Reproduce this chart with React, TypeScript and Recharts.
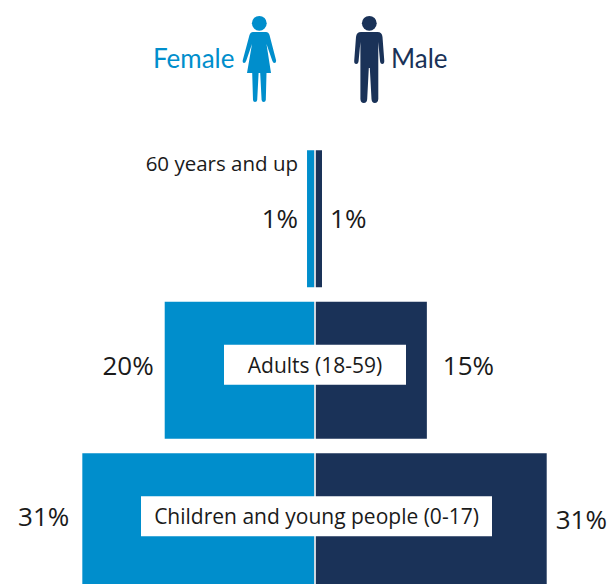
import { BarChart, Bar, XAxis, YAxis, LabelList, ReferenceLine } from "recharts";

const categories = ["60 years and up", "Adults (18-59)", "Children and young people (0-17)"];
const femaleValues = [1, 20, 31];
const maleValues = [1, 15, 31];

const BLUE = "#008ecc";
const NAVY = "#1a3258";
const TEXT = "#1a1a1a";
const FONT = "'Open Sans', sans-serif";

const data = categories.map((category, i) => ({
  category,
  female: -femaleValues[i],
  male: maleValues[i],
}));

// small nudges so the percent labels sit where they do in the original
const femaleLabelShift = [-1, -5, -6];
const maleLabelShift = [-1, -5, -3];
const femaleLabelGap = [9, 11, 13];
const maleLabelGap = [8, 16, 9];

const ValueLabel = ({ x, y, width, height, index, side }: any) => {
  const isFemale = side === "female";
  const values = isFemale ? femaleValues : maleValues;
  const shift = isFemale ? femaleLabelShift : maleLabelShift;
  // female widths arrive negative, so x + width is the outer edge either way
  const edge = x + width;
  return (
    <text
      x={isFemale ? edge - femaleLabelGap[index] : edge + maleLabelGap[index]}
      y={y + height / 2 + shift[index]}
      textAnchor={isFemale ? "end" : "start"}
      dominantBaseline="central"
      fontFamily={FONT}
      fontSize={26}
      fill={TEXT}
    >
      {values[index]}%
    </text>
  );
};

const boxWidths = [0, 182, 351];
const boxCenters = [0, 315, 316.5];

const CategoryLabel = ({ x, y, height, index }: any) => {
  if (index === 0) {
    return (
      <text
        x={x - 16.5}
        y={y + 13}
        textAnchor="end"
        dominantBaseline="central"
        fontFamily={FONT}
        fontSize={20.5}
        fill={TEXT}
      >
        {categories[0]}
      </text>
    );
  }
  const midY = y + height / 2 - 5.5;
  return (
    <g>
      <rect
        x={boxCenters[index] - boxWidths[index] / 2}
        y={midY - 20}
        width={boxWidths[index]}
        height={40}
        fill="#fff"
      />
      <text
        x={boxCenters[index]}
        y={midY}
        textAnchor="middle"
        dominantBaseline="central"
        fontFamily={FONT}
        fontSize={21}
        fill={TEXT}
      >
        {categories[index]}
      </text>
    </g>
  );
};

const PeopleLegend = () => (
  <g>
    <text x={153} y={57.5} dominantBaseline="central" fontFamily="Lato, sans-serif" fontSize={26} fill={BLUE}>
      Female
    </text>
    <circle cx={259.3} cy={23.3} r={7.4} fill={BLUE} />
    <path
      d="M253 32 L266 32 Q268.5 32 269.5 35 L276 60 Q276.5 63 274.5 63 Q273 63 272.2 60.5 L266.5 44 L271 73 L266.5 73 L265.8 100 Q265.5 102 263.7 102 Q261.8 102 261.6 100 L260.2 73 L258.6 73 L257.2 100 Q257 102 255 102 Q253.2 102 253 100 L252.2 73 L247 73 L252 44 L246.3 60.5 Q245.5 63 244 63 Q242.2 63 242.8 60 L249.5 35 Q250.5 32 253 32 Z"
      fill={BLUE}
    />
    <circle cx={369.3} cy={23.3} r={7.4} fill={NAVY} />
    <path
      d="M361 32 L377.5 32 Q382 32 382.5 37 L384.3 61 Q384.3 64 382.3 64 Q380.3 64 380 61 L378.3 42 L378.3 99 Q378 103 374.8 103 Q371.8 103 371.5 99 L369.8 68 L368.8 68 L367.2 99 Q367 103 363.8 103 Q360.6 103 360.4 99 L360.4 42 L358.6 61 Q358.3 64 356.3 64 Q354 64 354.2 61 L356 37 Q356.5 32 361 32 Z"
      fill={NAVY}
    />
    <text x={391} y={57.5} dominantBaseline="central" fontFamily="Lato, sans-serif" fontSize={26} fill={NAVY}>
      Male
    </text>
  </g>
);

export default function App() {
  return (
    <div style={{ position: "absolute", left: 0, top: 0, width: 610, height: 584, overflow: "hidden", background: "#fff" }}>
      <BarChart
        width={610}
        height={600}
        data={data}
        layout="vertical"
        stackOffset="sign"
        margin={{ top: 143.25, right: 0, bottom: 2.25, left: 0 }}
      >
        <XAxis type="number" hide domain={[-41.99, 39.45]} allowDataOverflow />
        <YAxis type="category" hide dataKey="category" width={0} />
        <Bar dataKey="female" stackId="people" fill={BLUE} barSize={137} isAnimationActive={false}>
          <LabelList dataKey="female" content={(props: any) => <ValueLabel {...props} side="female" />} />
        </Bar>
        <Bar dataKey="male" stackId="people" fill={NAVY} barSize={137} isAnimationActive={false}>
          <LabelList dataKey="male" content={(props: any) => <ValueLabel {...props} side="male" />} />
          <LabelList dataKey="category" content={(props: any) => <CategoryLabel {...props} />} />
        </Bar>
        <ReferenceLine x={0.07} stroke="#fff" strokeWidth={1.5} />
        <PeopleLegend />
      </BarChart>
    </div>
  );
}
